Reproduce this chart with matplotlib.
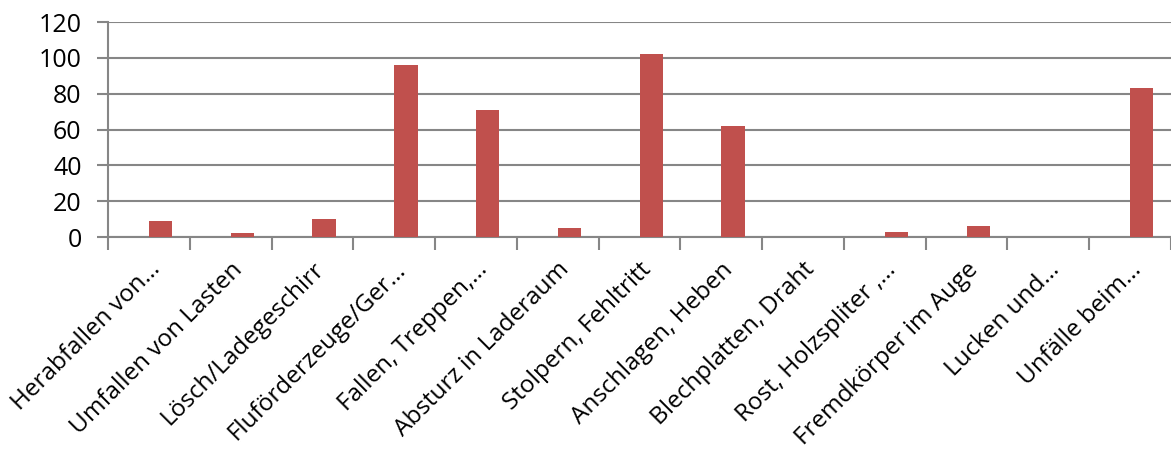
import matplotlib
matplotlib.use("Agg")
import matplotlib.pyplot as plt
import matplotlib.transforms as mtransforms
import numpy as np

# data
categories = ["Herabfallen von…", "Umfallen von Lasten", "Lösch/Ladegeschirr",
              "Fluförderzeuge/Ger…", "Fallen, Treppen,…", "Absturz in Laderaum",
              "Stolpern, Fehltritt", "Anschlagen, Heben", "Blechplatten, Draht",
              "Rost, Holzspliter ,…", "Fremdkörper im Auge", "Lucken und…",
              "Unfälle beim…"]
values = [9, 2, 10, 96, 71, 5, 102, 62, 0, 3, 6, 0, 83]

plt.rcParams["font.family"] = ["Open Sans", "DejaVu Sans"]
grid_col = "#868686"
bar_col = "#C0504D"

fig = plt.figure(figsize=(11.71, 4.57), dpi=100)
ax = fig.add_axes([108 / 1171, 1 - 237 / 457, 1 - 108 / 1171, (237 - 22) / 457])

x = np.arange(len(categories))
w = 1 / 3.5  # excel: two series, gap width 150%, first series is empty
ax.bar(x + w / 2, values, width=w, color=bar_col, zorder=3)

ax.set_ylim(0, 120)
ax.set_yticks(range(0, 121, 20))
ax.set_xlim(-0.5, -0.5 + (1171 - 108) / 82.2)
ax.yaxis.grid(True, color=grid_col, linewidth=1.5, zorder=0)

for s in ["top", "right"]:
    ax.spines[s].set_visible(False)
for s in ["left", "bottom"]:
    ax.spines[s].set_color(grid_col)
    ax.spines[s].set_linewidth(1.5)

ax.tick_params(axis="y", length=8, width=1.5, color=grid_col, labelsize=18, pad=11)
ax.set_xticks(np.arange(-0.5, len(categories) + 0.5, 1), minor=True)
ax.tick_params(axis="x", which="minor", length=9, width=1.5, color=grid_col)
ax.set_xticks(x)
ax.set_xticklabels(categories, rotation=45, ha="right", va="center",
                   rotation_mode="anchor", fontsize=17.5)
ax.tick_params(axis="x", which="major", length=0, pad=21)

# nudge labels right like excel does
shift = mtransforms.ScaledTranslation(8 / 100, 0, fig.dpi_scale_trans)
for lab in ax.get_xticklabels():
    lab.set_transform(lab.get_transform() + shift)

fig.savefig("out.png", dpi=100)
